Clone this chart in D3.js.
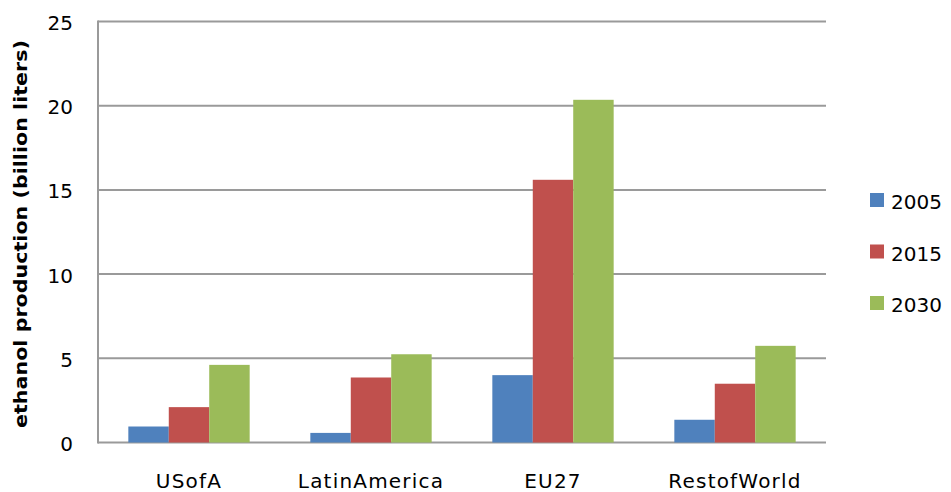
<!DOCTYPE html>
<html>
<head>
<meta charset="utf-8">
<script src="https://cdn.jsdelivr.net/npm/d3@7"></script>
<style>
  html, body { margin: 0; padding: 0; background: #fff; }
  svg { display: block; }
  text { font-family: "DejaVu Sans", sans-serif; fill: #000; }
</style>
</head>
<body>
<svg id="chart" width="951" height="492"></svg>
<script>
const categories = ["USofA", "LatinAmerica", "EU27", "RestofWorld"];
const seriesNames = ["2005", "2015", "2030"];
const values2005 = [0.95, 0.57, 4.0, 1.35];
const values2015 = [2.1, 3.86, 15.6, 3.49];
const values2030 = [4.61, 5.24, 20.35, 5.74];
const yTicks = [0, 5, 10, 15, 20, 25];
const colors = ["#4f81bd", "#c0504d", "#9bbb59"];
const yTitle = "ethanol production  (billion  liters)";

const seriesValues = [values2005, values2015, values2030];
const svg = d3.select("#chart");
const plotLeft = 98, plotRight = 826, plotTop = 21.5, plotBottom = 442.5;

const x = d3.scaleBand().domain(categories).range([plotLeft, plotRight]).paddingInner(0).paddingOuter(0);
const barW = x.bandwidth() / 4.5;
const xs = d3.scaleBand().domain(seriesNames).range([barW * 0.75, barW * 3.75]).padding(0);
const y = d3.scaleLinear().domain([0, 25]).range([plotBottom, plotTop]);

// gridlines
svg.append("g").selectAll("line").data(yTicks).join("line")
  .attr("x1", plotLeft).attr("x2", plotRight)
  .attr("y1", d => y(d)).attr("y2", d => y(d))
  .attr("stroke", "#9a9a9a").attr("stroke-width", 2);

// y axis line
svg.append("line").attr("x1", plotLeft).attr("x2", plotLeft).attr("y1", plotTop - 1).attr("y2", plotBottom + 1)
  .attr("stroke", "#9a9a9a").attr("stroke-width", 2);

// bars
const data = [];
categories.forEach((c, i) => seriesNames.forEach((s, j) => data.push({c, s, v: seriesValues[j][i], j})));
svg.append("g").selectAll("rect").data(data).join("rect")
  .attr("x", d => x(d.c) + xs(d.s))
  .attr("width", xs.bandwidth())
  .attr("y", d => y(d.v))
  .attr("height", d => y(0) - y(d.v))
  .attr("fill", d => colors[d.j]);

// y tick labels
svg.append("g").selectAll("text").data(yTicks).join("text")
  .attr("x", 73).attr("y", d => y(d) + 1.5)
  .attr("text-anchor", "end").attr("dominant-baseline", "central")
  .attr("font-size", 20).attr("fill", "#222")
  .text(d => d);

// category labels
svg.append("g").selectAll("text").data(categories).join("text")
  .attr("x", d => x(d) + x.bandwidth() / 2).attr("y", 488)
  .attr("text-anchor", "middle").attr("font-size", 20).attr("letter-spacing", 1.2)
  .attr("fill", "#222")
  .text(d => d);

// y title
svg.append("text")
  .attr("transform", `translate(27,${234}) rotate(-90)`)
  .attr("text-anchor", "middle").attr("font-size", 17).attr("font-weight", "bold")
  .attr("textLength", 388).attr("lengthAdjust", "spacingAndGlyphs")
  .text(yTitle);

// legend
const lg = svg.append("g").selectAll("g").data(seriesNames).join("g")
  .attr("transform", (d, i) => `translate(870,${200 + i * 51.5})`);
lg.append("rect").attr("x", 0).attr("y", -7).attr("width", 14).attr("height", 14)
  .attr("fill", (d, i) => colors[i]);
lg.append("text").attr("x", 21).attr("y", 2).attr("dominant-baseline", "central")
  .attr("font-size", 20).attr("fill", "#222").text(d => d);
</script>
</body>
</html>
